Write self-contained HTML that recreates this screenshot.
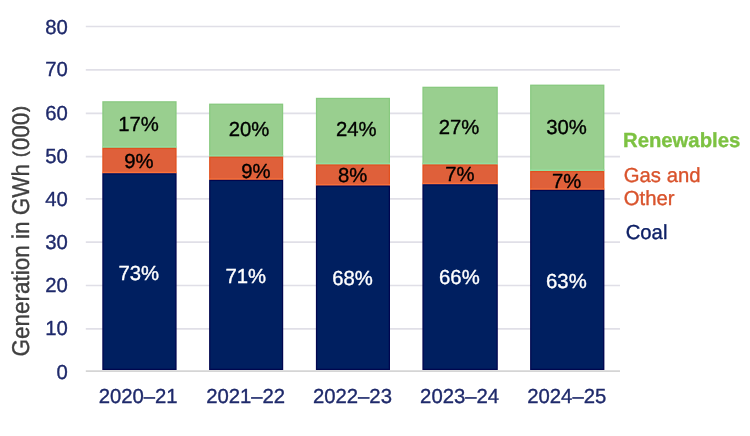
<!DOCTYPE html>
<html lang="en"><head><meta charset="utf-8"><title>Generation in GWh (000)</title>
<style>
html,body{margin:0;padding:0;background:#fff;}
body{width:750px;height:436px;overflow:hidden;}
svg{display:block;font-family:"Liberation Sans",sans-serif;text-rendering:geometricPrecision;}
text{stroke-width:0.35px;stroke-linejoin:round;}
</style></head><body>
<svg width="750" height="436" viewBox="0 0 750 436">
<rect width="750" height="436" fill="#ffffff"/>
<line x1="85.8" x2="620" y1="328.90" y2="328.90" stroke="#e0dfe7" stroke-width="1.7"/>
<line x1="85.8" x2="620" y1="285.50" y2="285.50" stroke="#e0dfe7" stroke-width="1.7"/>
<line x1="85.8" x2="620" y1="242.20" y2="242.20" stroke="#e0dfe7" stroke-width="1.7"/>
<line x1="85.8" x2="620" y1="198.90" y2="198.90" stroke="#e0dfe7" stroke-width="1.7"/>
<line x1="85.8" x2="620" y1="156.60" y2="156.60" stroke="#e0dfe7" stroke-width="1.7"/>
<line x1="85.8" x2="620" y1="113.30" y2="113.30" stroke="#e0dfe7" stroke-width="1.7"/>
<line x1="85.8" x2="620" y1="69.90" y2="69.90" stroke="#e0dfe7" stroke-width="1.7"/>
<line x1="85.8" x2="620" y1="26.50" y2="26.50" stroke="#e0dfe7" stroke-width="1.7"/>
<line x1="85.8" x2="620" y1="371.05" y2="371.05" stroke="#d5d5d5" stroke-width="1.65"/>
<rect x="102.3" y="101.2" width="74.30" height="46.60" fill="#88c97f"/>
<rect x="103.55" y="102.45" width="71.80" height="45.35" fill="#99cf8f"/>
<rect x="102.3" y="146.20" width="74.30" height="1.6" fill="#93dea0"/>
<rect x="102.3" y="147.8" width="74.30" height="25.40" fill="#e0501f"/>
<rect x="103.55" y="149.05" width="71.80" height="24.15" fill="#df603a"/>
<rect x="102.3" y="171.80" width="74.30" height="1.4" fill="#ff7239"/>
<rect x="102.3" y="173.2" width="74.30" height="196.80" fill="#00064f"/>
<rect x="103.55" y="174.45" width="71.80" height="194.30" fill="#001f60"/>
<rect x="209.1" y="103.6" width="74.10" height="53.00" fill="#88c97f"/>
<rect x="210.35" y="104.85" width="71.60" height="51.75" fill="#99cf8f"/>
<rect x="209.1" y="155.00" width="74.10" height="1.6" fill="#93dea0"/>
<rect x="209.1" y="156.6" width="74.10" height="23.20" fill="#e0501f"/>
<rect x="210.35" y="157.85" width="71.60" height="21.95" fill="#df603a"/>
<rect x="209.1" y="178.40" width="74.10" height="1.4" fill="#ff7239"/>
<rect x="209.1" y="179.8" width="74.10" height="190.20" fill="#00064f"/>
<rect x="210.35" y="181.05" width="71.60" height="187.70" fill="#001f60"/>
<rect x="315.9" y="97.8" width="74.10" height="66.60" fill="#88c97f"/>
<rect x="317.15" y="99.05" width="71.60" height="65.35" fill="#99cf8f"/>
<rect x="315.9" y="162.80" width="74.10" height="1.6" fill="#93dea0"/>
<rect x="315.9" y="164.4" width="74.10" height="21.10" fill="#e0501f"/>
<rect x="317.15" y="165.65" width="71.60" height="19.85" fill="#df603a"/>
<rect x="315.9" y="184.10" width="74.10" height="1.4" fill="#ff7239"/>
<rect x="315.9" y="185.5" width="74.10" height="184.50" fill="#00064f"/>
<rect x="317.15" y="186.75" width="71.60" height="182.00" fill="#001f60"/>
<rect x="422.4" y="86.7" width="75.40" height="77.70" fill="#88c97f"/>
<rect x="423.65" y="87.95" width="72.90" height="76.45" fill="#99cf8f"/>
<rect x="422.4" y="162.80" width="75.40" height="1.6" fill="#93dea0"/>
<rect x="422.4" y="164.4" width="75.40" height="19.80" fill="#e0501f"/>
<rect x="423.65" y="165.65" width="72.90" height="18.55" fill="#df603a"/>
<rect x="422.4" y="182.80" width="75.40" height="1.4" fill="#ff7239"/>
<rect x="422.4" y="184.2" width="75.40" height="185.80" fill="#00064f"/>
<rect x="423.65" y="185.45" width="72.90" height="183.30" fill="#001f60"/>
<rect x="530.1" y="84.6" width="74.30" height="86.40" fill="#88c97f"/>
<rect x="531.35" y="85.85" width="71.80" height="85.15" fill="#99cf8f"/>
<rect x="530.1" y="169.40" width="74.30" height="1.6" fill="#93dea0"/>
<rect x="530.1" y="171.0" width="74.30" height="18.80" fill="#e0501f"/>
<rect x="531.35" y="172.25" width="71.80" height="17.55" fill="#df603a"/>
<rect x="530.1" y="188.40" width="74.30" height="1.4" fill="#ff7239"/>
<rect x="530.1" y="189.8" width="74.30" height="180.20" fill="#00064f"/>
<rect x="531.35" y="191.05" width="71.80" height="177.70" fill="#001f60"/>
<text x="67.8" y="378.60" text-anchor="end" font-size="20.3" fill="#1f2a6b" stroke="#1f2a6b">0</text>
<text x="67.8" y="335.25" text-anchor="end" font-size="20.3" fill="#1f2a6b" stroke="#1f2a6b">10</text>
<text x="67.8" y="291.80" text-anchor="end" font-size="20.3" fill="#1f2a6b" stroke="#1f2a6b">20</text>
<text x="67.8" y="248.50" text-anchor="end" font-size="20.3" fill="#1f2a6b" stroke="#1f2a6b">30</text>
<text x="67.8" y="206.35" text-anchor="end" font-size="20.3" fill="#1f2a6b" stroke="#1f2a6b">40</text>
<text x="67.8" y="163.30" text-anchor="end" font-size="20.3" fill="#1f2a6b" stroke="#1f2a6b">50</text>
<text x="67.8" y="120.20" text-anchor="end" font-size="20.3" fill="#1f2a6b" stroke="#1f2a6b">60</text>
<text x="67.8" y="76.25" text-anchor="end" font-size="20.3" fill="#1f2a6b" stroke="#1f2a6b">70</text>
<text x="67.8" y="34.20" text-anchor="end" font-size="20.3" fill="#1f2a6b" stroke="#1f2a6b">80</text>
<text x="138.15" y="403.2" text-anchor="middle" font-size="20.3" fill="#1f2a6b" stroke="#1f2a6b">2020–21</text>
<text x="245.65" y="403.2" text-anchor="middle" font-size="20.3" fill="#1f2a6b" stroke="#1f2a6b">2021–22</text>
<text x="352.45" y="403.2" text-anchor="middle" font-size="20.3" fill="#1f2a6b" stroke="#1f2a6b">2022–23</text>
<text x="459.60" y="403.2" text-anchor="middle" font-size="20.3" fill="#1f2a6b" stroke="#1f2a6b">2023–24</text>
<text x="566.75" y="403.2" text-anchor="middle" font-size="20.3" fill="#1f2a6b" stroke="#1f2a6b">2024–25</text>
<text x="138.50" y="130.60" text-anchor="middle" font-size="20.3" fill="#000" stroke="#000">17%</text>
<text x="249.00" y="136.40" text-anchor="middle" font-size="20.3" fill="#000" stroke="#000">20%</text>
<text x="356.20" y="136.40" text-anchor="middle" font-size="20.3" fill="#000" stroke="#000">24%</text>
<text x="459.10" y="134.20" text-anchor="middle" font-size="20.3" fill="#000" stroke="#000">27%</text>
<text x="566.60" y="134.20" text-anchor="middle" font-size="20.3" fill="#000" stroke="#000">30%</text>
<text x="138.80" y="167.60" text-anchor="middle" font-size="20.3" fill="#000" stroke="#000">9%</text>
<text x="255.80" y="177.60" text-anchor="middle" font-size="20.3" fill="#000" stroke="#000">9%</text>
<text x="352.70" y="182.20" text-anchor="middle" font-size="20.3" fill="#000" stroke="#000">8%</text>
<text x="459.80" y="180.80" text-anchor="middle" font-size="20.3" fill="#000" stroke="#000">7%</text>
<text x="566.60" y="187.60" text-anchor="middle" font-size="20.3" fill="#000" stroke="#000">7%</text>
<text x="138.80" y="279.80" text-anchor="middle" font-size="20.3" fill="#fff" stroke="#fff">73%</text>
<text x="245.80" y="283.30" text-anchor="middle" font-size="20.3" fill="#fff" stroke="#fff">71%</text>
<text x="352.60" y="285.40" text-anchor="middle" font-size="20.3" fill="#fff" stroke="#fff">68%</text>
<text x="459.40" y="284.30" text-anchor="middle" font-size="20.3" fill="#fff" stroke="#fff">66%</text>
<text x="566.40" y="287.80" text-anchor="middle" font-size="20.3" fill="#fff" stroke="#fff">63%</text>
<text x="623" y="146.8" font-size="20.3" font-weight="bold" fill="#7dc242" stroke="#7dc242">Renewables</text>
<text x="623.8" y="182.1" font-size="20.3" fill="#d9532c" stroke="#d9532c">Gas and</text>
<text x="623.8" y="205" font-size="20.3" fill="#d9532c" stroke="#d9532c">Other</text>
<text x="625.7" y="238.8" font-size="20.3" fill="#0f2166" stroke="#0f2166">Coal</text>
<text transform="translate(28.6 231.3) rotate(-90) scale(1 1.08)" text-anchor="middle" font-size="22.5" fill="#404040" stroke="#404040">Generation in GWh <tspan font-size="17" dy="-2.7" dx="0.9" stroke-width="0.6">(</tspan><tspan dy="2.7" dx="1.0">000</tspan><tspan font-size="17" dy="-2.7" dx="1.0" stroke-width="0.6">)</tspan></text>
</svg>
</body></html>
